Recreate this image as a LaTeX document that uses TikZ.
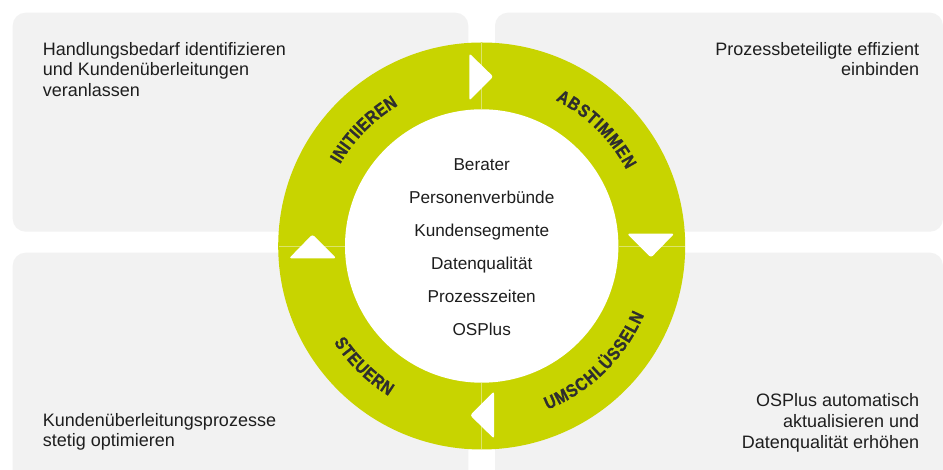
\documentclass[tikz,border=0pt]{standalone}
\usepackage{fontspec}
\setmainfont{Liberation Sans}
\newfontfamily\ringfont[FakeStretch=0.85,FakeBold=1.2]{Liberation Sans Bold}
\usetikzlibrary{decorations.text,calc}
\definecolor{panelgray}{HTML}{F2F2F2}
\definecolor{ringgreen}{HTML}{C8D400}
\definecolor{labeldark}{HTML}{2E2E2E}
\definecolor{textdark}{HTML}{1E1E1E}
\definecolor{seam}{HTML}{DCE46A}
\begin{document}
\begin{tikzpicture}[x=1pt,y=1pt,
  panel/.style={fill=panelgray, draw=none, rounded corners=13pt},
  ptext/.style={font=\fontsize{18}{20.7}\selectfont, text=textdark, inner sep=0pt},
  items/.style={font=\fontsize{17.2}{33}\selectfont, text=textdark, inner sep=0pt, align=center},
  seamline/.style={draw=seam, line width=0.7pt},
  arrowtri/.style={fill=white, rounded corners=2.5pt},
  ringlabel/.style={decorate, decoration={text along path, text align=fit to path, text color=labeldark, text={|\ringfont\fontsize{18}{18}\selectfont|#1}}}
]
\useasboundingbox (0,0) rectangle (943,470);
\fill[white] (0,0) rectangle (943,470);

% panels
\path[panel] (12.7,238.3) rectangle (468.3,457.3);
\path[panel] (495,238.3) rectangle (943,457.3);
\path[panel] (12.7,-20) rectangle (468.3,217.3);
\path[panel] (495,-20) rectangle (943,217.3);

% ring
\coordinate (c) at (481.7,224);
\fill[ringgreen] (c) circle[radius=203.5];
\fill[white] (c) circle[radius=136.7];

% seams between quadrants
\draw[seamline] ($(c)+(0,137.2)$) -- ($(c)+(0,203)$);
\draw[seamline] ($(c)+(0,-137.2)$) -- ($(c)+(0,-203)$);
\draw[seamline] ($(c)+(137.2,0)$) -- ($(c)+(203,0)$);
\draw[seamline] ($(c)+(-137.2,0)$) -- ($(c)+(-203,0)$);

% arrow triangles (clockwise)
\foreach \a in {0,-90,-180,-270}{
  \begin{scope}[shift={(481.7,224)}, rotate=\a]
    \path[arrowtri] (-12.4,192.7) -- (-12.4,145.3) -- (11.6,169.3) -- cycle;
  \end{scope}
}

% ring labels
\path[ringlabel=INITIIEREN] ($(c)+(150:163.5)$) arc[start angle=150, end angle=120.7, radius=163.5];
\path[ringlabel=ABSTIMMEN] ($(c)+(63.1:163.5)$) arc[start angle=63.1, end angle=27.8, radius=163.5];
\path[ringlabel=UMSCHLÜSSELN] ($(c)+(-68.1:176.5)$) arc[start angle=-68.1, end angle=-23, radius=176.5];
\path[ringlabel=STEUERN] ($(c)+(213.1:176.5)$) arc[start angle=213.1, end angle=238.2, radius=176.5];

% centre list
\node[items] (items) at (481.7,222.6) {Berater\\Personenverbünde\\Kundensegmente\\Datenqualität\\Prozesszeiten\\OSPlus};

% panel texts (base anchor = baseline of last line)
\node[ptext, align=left, anchor=base west] (tl) at (42.7,373.3) {Handlungsbedarf identifizieren\\und Kundenüberleitungen\\veranlassen};
\node[ptext, align=right, anchor=base east] (tr) at (919.3,394) {Prozessbeteiligte effizient\\einbinden};
\node[ptext, align=left, anchor=base west] (bl) at (42.7,23) {Kundenüberleitungsprozesse\\stetig optimieren};
\node[ptext, align=right, anchor=base east] (br) at (919.3,21.9) {OSPlus automatisch\\aktualisieren und\\Datenqualität erhöhen};
\end{tikzpicture}
\end{document}
